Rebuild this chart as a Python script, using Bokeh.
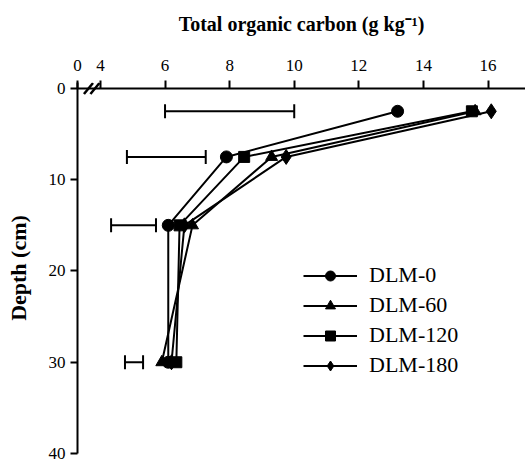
from bokeh.plotting import figure
from bokeh.models import (Range1d, FixedTicker, LinearAxis, Legend, LegendItem,
                          Whisker, ColumnDataSource, Span, TeeHead)
from bokeh.embed import file_html
from bokeh.resources import INLINE

# ---- data ----
depth = [2.5, 7.5, 15, 30]
dlm0 = [13.2, 7.9, 6.1, 6.1]
dlm60 = [15.6, 9.3, 6.85, 5.9]
dlm120 = [15.5, 8.45, 6.45, 6.35]
dlm180 = [16.1, 9.75, 6.6, 6.2]
lsd_lo = [6.0, 4.82, 4.33, 4.76]
lsd_hi = [10.0, 7.26, 5.72, 5.32]
series_names = ["DLM-0", "DLM-60", "DLM-120", "DLM-180"]
x_ticks = [4, 6, 8, 10, 12, 14, 16]
y_ticks = [0, 10, 20, 30, 40]

x_origin = 3.29  # broken-axis origin shown as "0"
surface = 0.0    # depth of the soil surface (x axis baseline)
break_marks = [3.63, 3.83]
break_dx = 0.14
break_dy = 0.6

FONT = "Liberation Serif"

p = figure(width=525, height=463, output_backend="svg", toolbar_location=None,
           x_range=Range1d(x_origin, 17.16), y_range=Range1d(40, -0.654),
           x_axis_location=None, y_axis_location=None,
           min_border_left=77, min_border_top=82, min_border_right=0,
           min_border_bottom=10)
p.outline_line_color = None
p.xgrid.visible = False
p.ygrid.visible = False
p.background_fill_color = "white"

xa = LinearAxis(ticker=FixedTicker(ticks=[x_origin] + x_ticks),
                major_label_overrides={x_origin: "0"},
                axis_label="Total organic carbon (g kg\u207b\u00b9)")
ya = LinearAxis(ticker=FixedTicker(ticks=y_ticks), axis_label="Depth (cm)")
for ax in (xa, ya):
    ax.axis_line_width = 2
    ax.axis_line_color = "black"
    ax.major_tick_line_width = 2
    ax.minor_tick_line_color = None
    ax.major_label_text_font = FONT
    ax.major_label_text_font_size = "17px"
    ax.major_label_text_color = "black"
    ax.axis_label_text_font = FONT
    ax.axis_label_text_font_style = "bold"
    ax.axis_label_text_color = "black"
xa.axis_line_color = None
xa.major_tick_in = 6
xa.major_tick_out = 2
ya.major_tick_in = 0
ya.major_tick_out = 7
xa.axis_label_text_font_size = "20px"
ya.axis_label_text_font_size = "22px"
xa.major_label_standoff = 10
xa.axis_label_standoff = 22
ya.major_label_standoff = 5
ya.axis_label_standoff = 15
p.add_layout(xa, "above")
p.add_layout(ya, "left")

# x-axis baseline at the surface
p.add_layout(Span(location=surface, dimension="width", line_color="black",
                  line_width=2))

# error bars (LSD)
src_err = ColumnDataSource(dict(base=depth, lower=lsd_lo, upper=lsd_hi))
w = Whisker(source=src_err, base="base", lower="lower", upper="upper",
            dimension="width", line_width=2, line_color="black",
            lower_head=TeeHead(size=14, line_width=2, line_color="black"),
            upper_head=TeeHead(size=14, line_width=2, line_color="black"))
p.add_layout(w)

markers = ["circle", "triangle", "square", "diamond"]
sizes = [12, 12, 11, 15]
data = [dlm0, dlm60, dlm120, dlm180]
items = []
for name, vals, mk, sz in zip(series_names, data, markers, sizes):
    ln = p.line(vals, depth, line_width=2, line_color="black")
    sc = p.scatter(vals, depth, marker=mk, size=sz, fill_color="black",
                   line_color="black")
    items.append(LegendItem(label=name, renderers=[ln, sc]))

legend = Legend(items=items, location=(226, 75), border_line_color=None,
                background_fill_alpha=0, padding=0, margin=0, spacing=4,
                glyph_width=54, glyph_height=25, label_height=25,
                label_standoff=12,
                label_text_font=FONT, label_text_font_size="22px",
                label_text_color="black")
p.add_layout(legend, "center")

# axis break marks
p.segment(x0=[b - break_dx for b in break_marks], y0=[surface + break_dy] * 2,
          x1=[b + break_dx for b in break_marks], y1=[surface - break_dy] * 2,
          line_width=2.5, line_color="black")

open("out.html", "w").write(file_html(p, INLINE))
